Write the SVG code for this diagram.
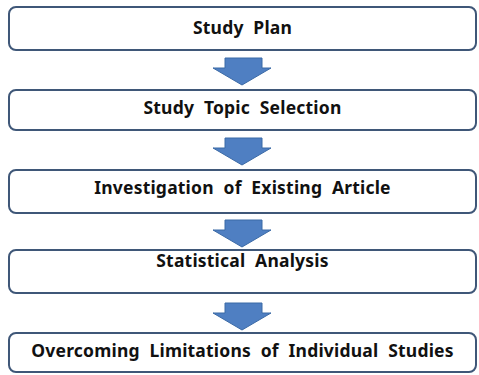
<svg xmlns="http://www.w3.org/2000/svg" width="479" height="375" viewBox="0 0 479 375">
  <style>
    .box { fill: #ffffff; stroke: #3f5778; stroke-width: 2; }
    .lbl { font-family: "Noto Sans", "Open Sans", sans-serif; font-weight: bold; font-size: 17.5px; fill: #111111; text-anchor: middle; word-spacing: 5px; letter-spacing: 0.2px; }
    .arrow { fill: #4f7fc2; stroke: #3b6aa6; stroke-width: 1; }
  </style>
  <defs>
    <!-- block arrow, drawn with its top-left at the origin -->
    <polygon id="down" points="12,0 49,0 49,10 58,10 29,27 0,10 12,10"/>
  </defs>

  <g id="step-1">
    <rect class="box" x="9" y="7" width="467" height="43" rx="7"/>
    <text class="lbl" x="242.5" y="34">Study Plan</text>
  </g>
  <g id="step-2">
    <rect class="box" x="9" y="90" width="467" height="40" rx="7"/>
    <text class="lbl" x="242.5" y="114">Study Topic Selection</text>
  </g>
  <g id="step-3">
    <rect class="box" x="9" y="170" width="467" height="43" rx="7"/>
    <text class="lbl" x="242.5" y="194">Investigation of Existing Article</text>
  </g>
  <g id="step-4">
    <rect class="box" x="9" y="250" width="467" height="43" rx="7"/>
    <text class="lbl" x="242.5" y="267">Statistical Analysis</text>
  </g>
  <g id="step-5">
    <rect class="box" x="9" y="333" width="467" height="39" rx="7"/>
    <text class="lbl" x="242.5" y="357">Overcoming Limitations of Individual Studies</text>
  </g>

  <g id="connectors">
    <use href="#down" class="arrow" x="213" y="58"/>
    <use href="#down" class="arrow" x="213" y="138"/>
    <use href="#down" class="arrow" x="213" y="220"/>
    <use href="#down" class="arrow" x="213" y="303"/>
  </g>
</svg>
